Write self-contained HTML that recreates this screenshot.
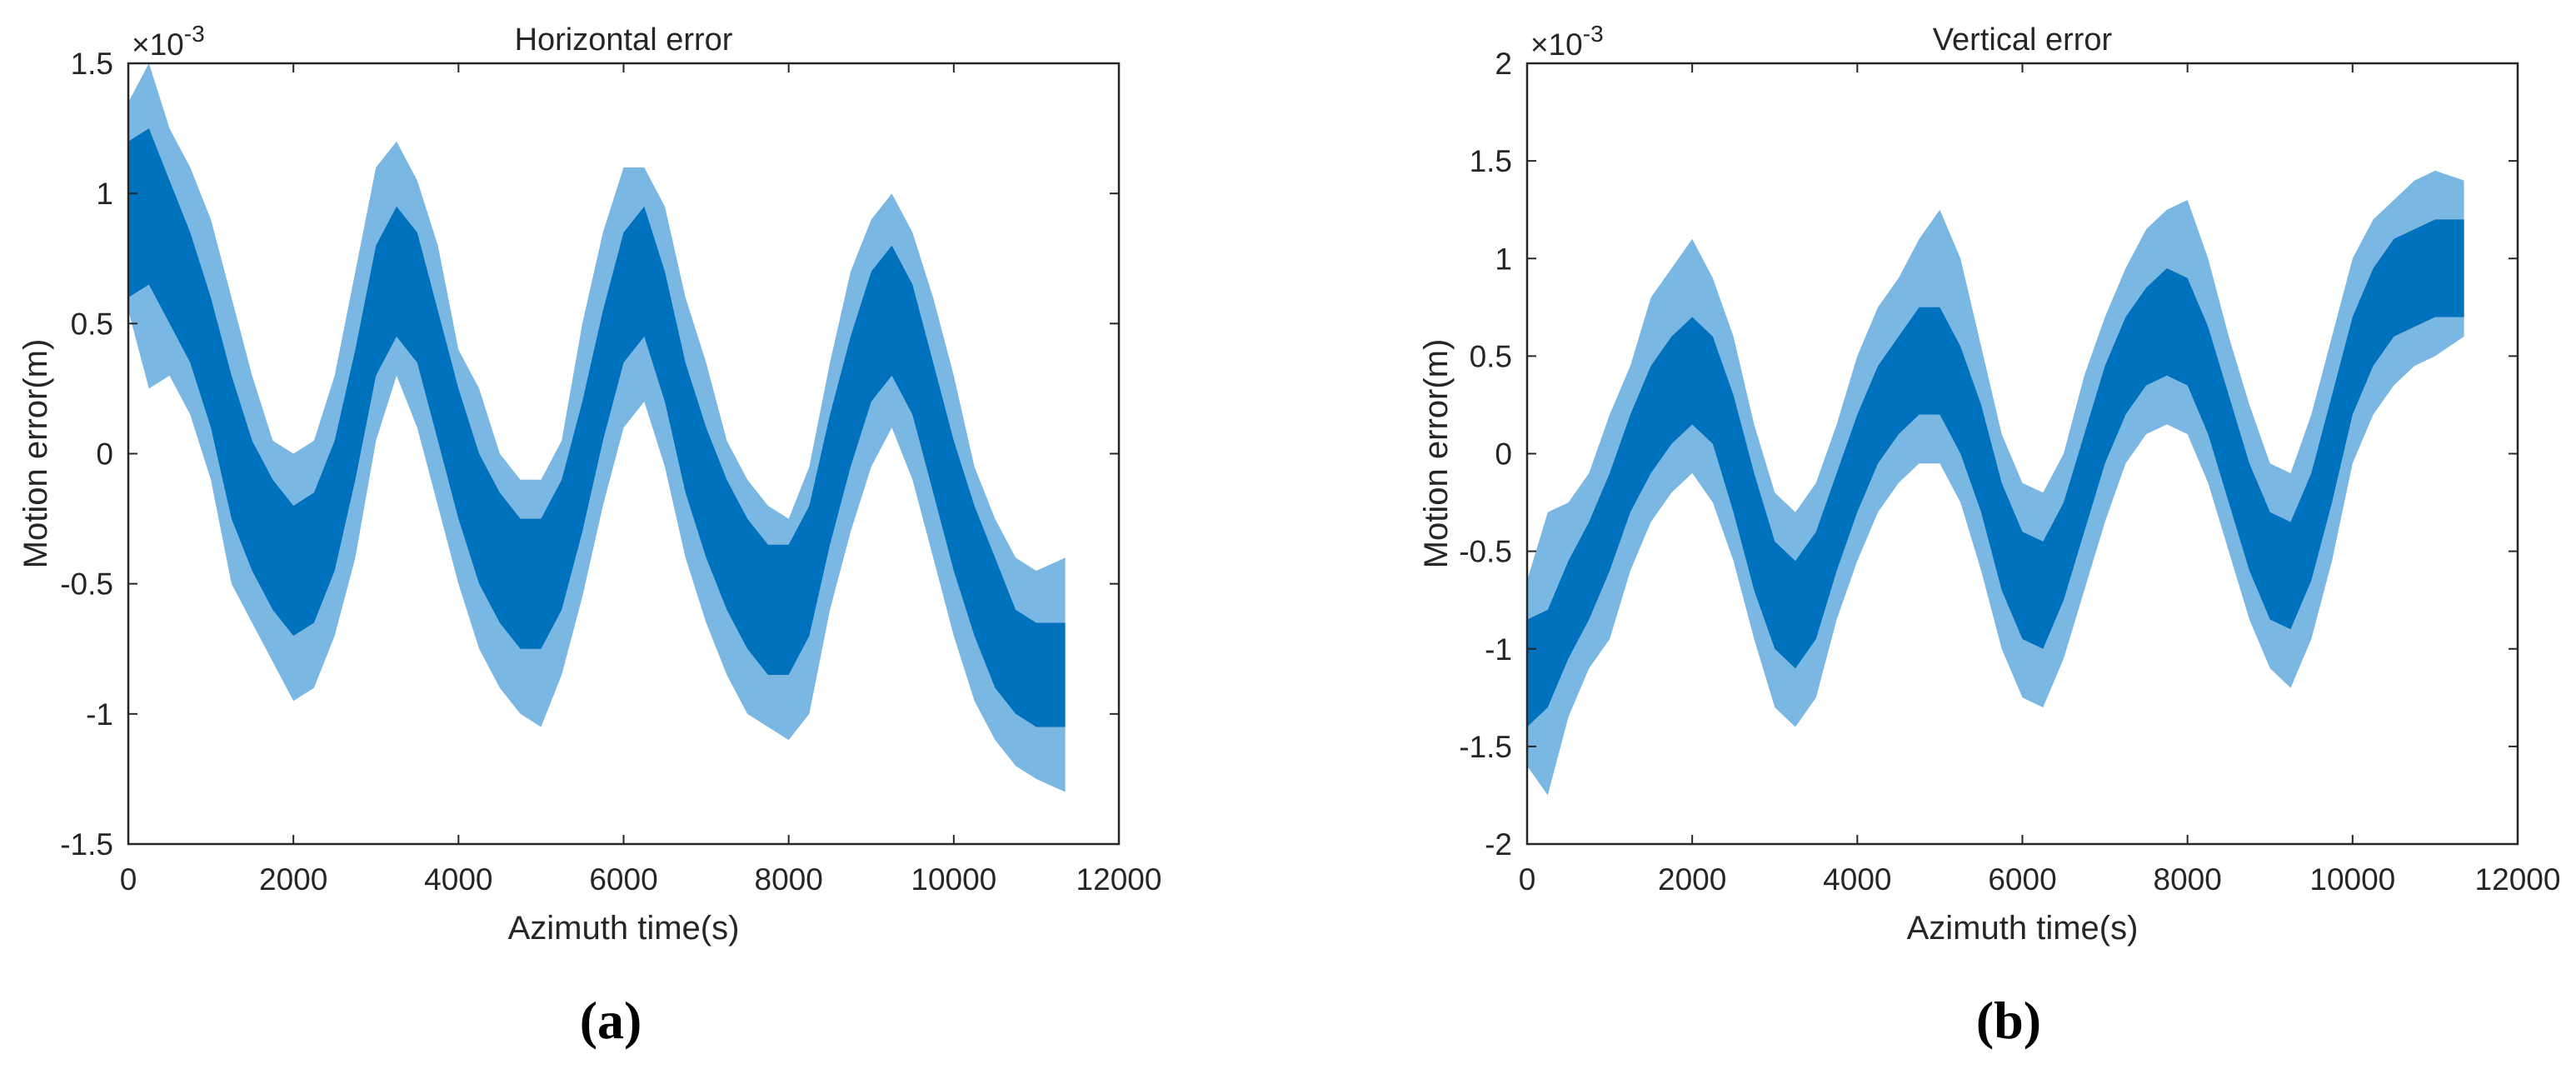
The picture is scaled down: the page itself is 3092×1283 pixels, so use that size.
<!DOCTYPE html>
<html><head><meta charset="utf-8">
<style>
html,body{margin:0;padding:0;background:#fff;}
svg{display:block;}
text{font-family:"Liberation Sans",Arial,sans-serif;fill:#262626;}
</style></head>
<body>
<svg id="fig" width="3092" height="1283" viewBox="0 0 3092 1283" xmlns="http://www.w3.org/2000/svg"></svg>
<script>
// ---- data (values in units of 1e-3 m) ----
const timesA = [0,250,500,750,1000,1250,1500,1750,2000,2250,2500,2750,3000,3250,3500,3750,4000,4250,4500,4750,5000,5250,5500,5750,6000,6250,6500,6750,7000,7250,7500,7750,8000,8250,8500,8750,9000,9250,9500,9750,10000,10250,10500,10750,11000,11350];
const coreLoA = [0.6,0.65,0.5,0.35,0.1,-0.25,-0.45,-0.6,-0.7,-0.65,-0.45,-0.1,0.3,0.45,0.35,0.05,-0.25,-0.5,-0.65,-0.75,-0.75,-0.6,-0.3,0.05,0.35,0.45,0.2,-0.15,-0.4,-0.6,-0.75,-0.85,-0.85,-0.7,-0.35,-0.05,0.2,0.3,0.15,-0.15,-0.45,-0.7,-0.9,-1.0,-1.05,-1.05];
const coreHiA = [1.2,1.25,1.05,0.85,0.6,0.3,0.05,-0.1,-0.2,-0.15,0.05,0.4,0.8,0.95,0.85,0.55,0.25,0.0,-0.15,-0.25,-0.25,-0.1,0.2,0.55,0.85,0.95,0.7,0.35,0.1,-0.1,-0.25,-0.35,-0.35,-0.2,0.15,0.45,0.7,0.8,0.65,0.35,0.05,-0.2,-0.4,-0.6,-0.65,-0.65];
const outerLoA = [0.55,0.25,0.3,0.15,-0.1,-0.5,-0.65,-0.8,-0.95,-0.9,-0.7,-0.4,0.05,0.3,0.1,-0.2,-0.5,-0.75,-0.9,-1.0,-1.05,-0.85,-0.55,-0.2,0.1,0.2,-0.05,-0.4,-0.65,-0.85,-1.0,-1.05,-1.1,-1.0,-0.6,-0.3,-0.05,0.1,-0.1,-0.4,-0.7,-0.95,-1.1,-1.2,-1.25,-1.3];
const outerHiA = [1.35,1.5,1.25,1.1,0.9,0.6,0.3,0.05,0.0,0.05,0.3,0.7,1.1,1.2,1.05,0.8,0.4,0.25,0.0,-0.1,-0.1,0.05,0.5,0.85,1.1,1.1,0.95,0.6,0.35,0.05,-0.1,-0.2,-0.25,-0.05,0.35,0.7,0.9,1.0,0.85,0.6,0.3,-0.05,-0.25,-0.4,-0.45,-0.4];

const timesB = timesA;
const coreLoB = [-1.4,-1.3,-1.05,-0.85,-0.6,-0.3,-0.1,0.05,0.15,0.05,-0.3,-0.7,-1.0,-1.1,-0.95,-0.6,-0.3,-0.05,0.1,0.2,0.2,0.0,-0.3,-0.7,-0.95,-1.0,-0.75,-0.4,-0.05,0.2,0.35,0.4,0.35,0.1,-0.25,-0.6,-0.85,-0.9,-0.65,-0.25,0.2,0.45,0.6,0.65,0.7,0.7];
const coreHiB = [-0.85,-0.8,-0.55,-0.35,-0.1,0.2,0.45,0.6,0.7,0.6,0.3,-0.1,-0.45,-0.55,-0.4,-0.1,0.2,0.45,0.6,0.75,0.75,0.55,0.25,-0.15,-0.4,-0.45,-0.25,0.1,0.45,0.7,0.85,0.95,0.9,0.65,0.3,-0.05,-0.3,-0.35,-0.1,0.3,0.7,0.95,1.1,1.15,1.2,1.2];
const outerLoB = [-1.6,-1.75,-1.35,-1.1,-0.95,-0.6,-0.35,-0.2,-0.1,-0.25,-0.55,-0.95,-1.3,-1.4,-1.25,-0.85,-0.55,-0.3,-0.15,-0.05,-0.05,-0.25,-0.6,-1.0,-1.25,-1.3,-1.05,-0.7,-0.35,-0.05,0.1,0.15,0.1,-0.15,-0.5,-0.85,-1.1,-1.2,-0.95,-0.55,-0.05,0.2,0.35,0.45,0.5,0.6];
const outerHiB = [-0.65,-0.3,-0.25,-0.1,0.2,0.45,0.8,0.95,1.1,0.9,0.6,0.15,-0.2,-0.3,-0.15,0.15,0.5,0.75,0.9,1.1,1.25,1.0,0.55,0.1,-0.15,-0.2,0.0,0.4,0.7,0.95,1.15,1.25,1.3,1.0,0.6,0.25,-0.05,-0.1,0.2,0.6,1.0,1.2,1.3,1.4,1.45,1.4];

const xTicks = [0,2000,4000,6000,8000,10000,12000];
const yTicksA = [-1.5,-1,-0.5,0,0.5,1,1.5];
const yTicksB = [-2,-1.5,-1,-0.5,0,0.5,1,1.5,2];

const NS = 'http://www.w3.org/2000/svg';
const svg = document.getElementById('fig');
function mk(tag, attrs, parent){
  const e = document.createElementNS(NS, tag);
  for (const k in attrs) e.setAttribute(k, attrs[k]);
  (parent||svg).appendChild(e);
  return e;
}

function panel(cfg){
  const L=cfg.left, R=cfg.left+1189, T=76, B=1013;
  const xs = v => L + (v-0)/(12000-0)*(R-L);
  const ys = v => B - (v-cfg.ymin)/(cfg.ymax-cfg.ymin)*(B-T);
  const g = mk('g',{});
  
  

  let pts=[];
  cfg.t.forEach((t,i)=>pts.push(xs(t).toFixed(1)+','+ys(cfg.oh[i]).toFixed(1)));
  for(let i=cfg.t.length-1;i>=0;i--) pts.push(xs(cfg.t[i]).toFixed(1)+','+ys(cfg.ol[i]).toFixed(1));
  const ob = mk('polygon',{points:pts.join(' '),fill:'#4d9fd9','fill-opacity':'0.75'},g);
  
  
  pts=[];
  cfg.t.forEach((t,i)=>pts.push(xs(t).toFixed(1)+','+ys(cfg.ch[i]).toFixed(1)));
  for(let i=cfg.t.length-1;i>=0;i--) pts.push(xs(cfg.t[i]).toFixed(1)+','+ys(cfg.cl[i]).toFixed(1));
  const cb = mk('polygon',{points:pts.join(' '),fill:'#0072BD'},g);
  
  

  const box = mk('rect',{x:L,y:T,width:R-L,height:B-T,fill:'none',stroke:'#262626','stroke-width':2.5},g);
  
  

  xTicks.forEach(v=>{
    const x=xs(v);
    mk('line',{x1:x,y1:B,x2:x,y2:B-11,stroke:'#262626','stroke-width':2},g);
    mk('line',{x1:x,y1:T,x2:x,y2:T+11,stroke:'#262626','stroke-width':2},g);
    const t=mk('text',{x:x,y:1068,'font-size':37,'text-anchor':'middle'},g);
    
    
    t.textContent=String(v);
  });
  cfg.yt.forEach(v=>{
    const y=ys(v);
    mk('line',{x1:L,y1:y,x2:L+11,y2:y,stroke:'#262626','stroke-width':2},g);
    mk('line',{x1:R,y1:y,x2:R-11,y2:y,stroke:'#262626','stroke-width':2},g);
    const t=mk('text',{x:L-18,y:y+13,'font-size':37,'text-anchor':'end'},g);
    
    
    t.textContent=String(v);
  });
  const ex=mk('text',{x:L+4,y:66,'font-size':37},g);
  
  
  ex.innerHTML='×10<tspan dy="-16" font-size="28">-3</tspan>';
  const ti=mk('text',{x:(L+R)/2,y:60,'font-size':38,'text-anchor':'middle'},g);
  
  
  ti.textContent=cfg.title;
  const xt=mk('text',{x:(L+R)/2,y:1127,'font-size':40,'text-anchor':'middle'},g);
  
  
  xt.textContent='Azimuth time(s)';
  const yx=cfg.ylabX, yy=(T+B)/2;
  const yt=mk('text',{x:yx,y:yy,'font-size':40,'text-anchor':'middle',transform:'rotate(-90 '+yx+' '+yy+')'},g);
  
  
  yt.textContent='Motion error(m)';
  const pl=mk('text',{x:cfg.labX,y:1246,'font-size':64,'text-anchor':'middle',style:'font-family:"Liberation Serif",serif;font-weight:bold;fill:#000'},g);
  
  
  pl.textContent=cfg.lab;
}

panel({name:'horizontal-error-chart',left:154,ymin:-1.5,ymax:1.5,yt:yTicksA,t:timesA,cl:coreLoA,ch:coreHiA,ol:outerLoA,oh:outerHiA,title:'Horizontal error',ylabX:56,labX:733,lab:'(a)'});
panel({name:'vertical-error-chart',left:1833,ymin:-2,ymax:2,yt:yTicksB,t:timesB,cl:coreLoB,ch:coreHiB,ol:outerLoB,oh:outerHiB,title:'Vertical error',ylabX:1737,labX:2411,lab:'(b)'});
</script>
</body></html>
